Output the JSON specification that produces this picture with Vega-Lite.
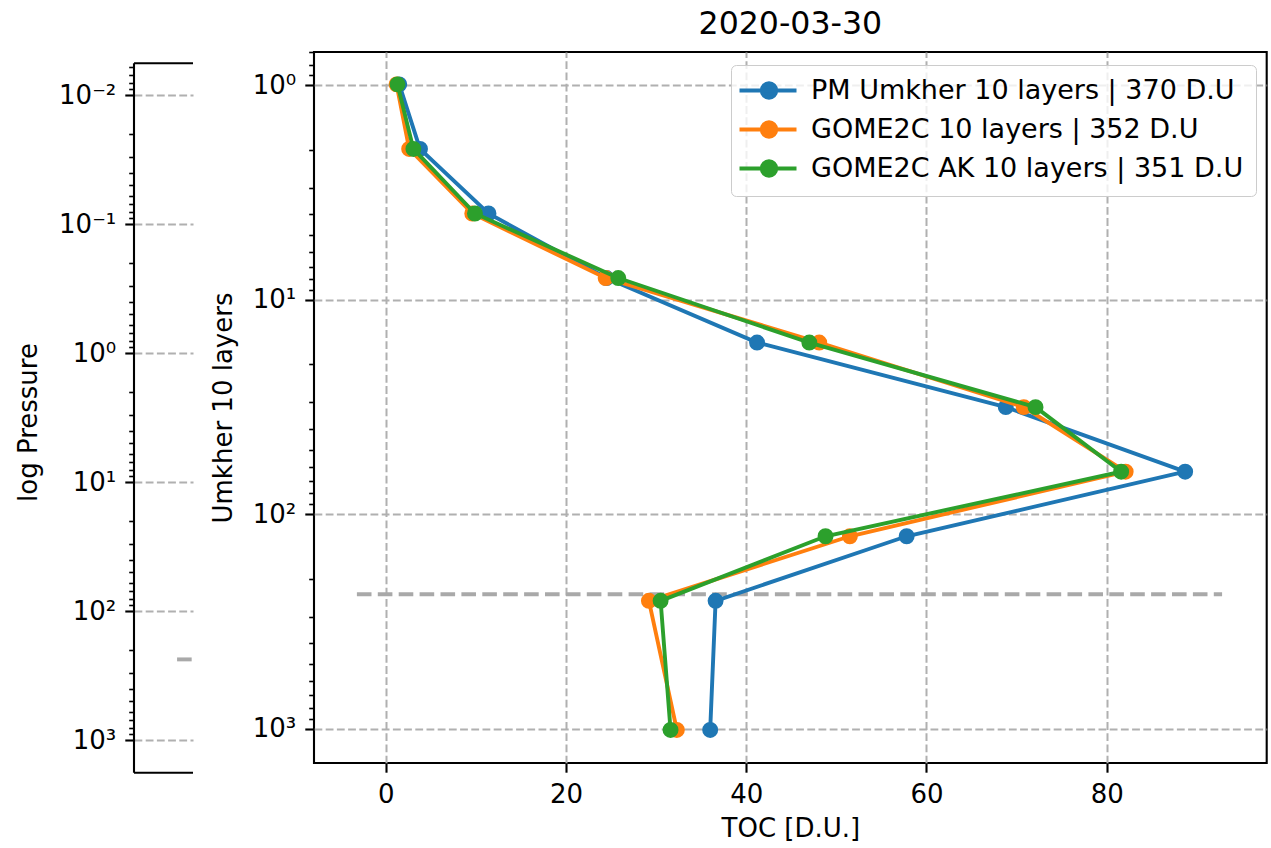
{
  "$schema": "https://vega.github.io/schema/vega-lite/v6.json",
  "background": "white",
  "padding": {"left": 15, "top": 8, "right": 5, "bottom": 5},
  "config": {
    "font": "DejaVu Sans",
    "axis": {"labelFont": "DejaVu Sans", "titleFont": "DejaVu Sans", "labelFontSize": 26, "titleFontSize": 26, "labelColor": "black", "titleColor": "black", "titleFontWeight": "normal", "tickColor": "black", "domainColor": "black"},
    "view": {"stroke": "black", "strokeWidth": 2.1}
  },
  "datasets": {
    "profiles": [
      {"series": "PM Umkher 10 layers | 370 D.U", "level": 1, "p": 0.99, "toc": 1.5},
      {"series": "PM Umkher 10 layers | 370 D.U", "level": 2, "p": 1.98, "toc": 3.8},
      {"series": "PM Umkher 10 layers | 370 D.U", "level": 3, "p": 3.96, "toc": 11.4},
      {"series": "PM Umkher 10 layers | 370 D.U", "level": 4, "p": 7.92, "toc": 24.5},
      {"series": "PM Umkher 10 layers | 370 D.U", "level": 5, "p": 15.83, "toc": 41.2},
      {"series": "PM Umkher 10 layers | 370 D.U", "level": 6, "p": 31.67, "toc": 68.8},
      {"series": "PM Umkher 10 layers | 370 D.U", "level": 7, "p": 63.33, "toc": 88.7},
      {"series": "PM Umkher 10 layers | 370 D.U", "level": 8, "p": 126.66, "toc": 57.8},
      {"series": "PM Umkher 10 layers | 370 D.U", "level": 9, "p": 253.3, "toc": 36.6},
      {"series": "PM Umkher 10 layers | 370 D.U", "level": 10, "p": 1013.25, "toc": 36.0},
      {"series": "GOME2C 10 layers | 352 D.U", "level": 1, "p": 0.99, "toc": 1.2},
      {"series": "GOME2C 10 layers | 352 D.U", "level": 2, "p": 1.98, "toc": 2.6},
      {"series": "GOME2C 10 layers | 352 D.U", "level": 3, "p": 3.96, "toc": 9.6},
      {"series": "GOME2C 10 layers | 352 D.U", "level": 4, "p": 7.92, "toc": 24.4},
      {"series": "GOME2C 10 layers | 352 D.U", "level": 5, "p": 15.83, "toc": 48.1},
      {"series": "GOME2C 10 layers | 352 D.U", "level": 6, "p": 31.67, "toc": 70.8},
      {"series": "GOME2C 10 layers | 352 D.U", "level": 7, "p": 63.33, "toc": 82.1},
      {"series": "GOME2C 10 layers | 352 D.U", "level": 8, "p": 126.66, "toc": 51.5},
      {"series": "GOME2C 10 layers | 352 D.U", "level": 9, "p": 253.3, "toc": 29.2},
      {"series": "GOME2C 10 layers | 352 D.U", "level": 10, "p": 1013.25, "toc": 32.3},
      {"series": "GOME2C AK 10 layers | 351 D.U", "level": 1, "p": 0.99, "toc": 1.3},
      {"series": "GOME2C AK 10 layers | 351 D.U", "level": 2, "p": 1.98, "toc": 3.07},
      {"series": "GOME2C AK 10 layers | 351 D.U", "level": 3, "p": 3.96, "toc": 9.9},
      {"series": "GOME2C AK 10 layers | 351 D.U", "level": 4, "p": 7.92, "toc": 25.8},
      {"series": "GOME2C AK 10 layers | 351 D.U", "level": 5, "p": 15.83, "toc": 47.0},
      {"series": "GOME2C AK 10 layers | 351 D.U", "level": 6, "p": 31.67, "toc": 72.1},
      {"series": "GOME2C AK 10 layers | 351 D.U", "level": 7, "p": 63.33, "toc": 81.6},
      {"series": "GOME2C AK 10 layers | 351 D.U", "level": 8, "p": 126.66, "toc": 48.8},
      {"series": "GOME2C AK 10 layers | 351 D.U", "level": 9, "p": 253.3, "toc": 30.5},
      {"series": "GOME2C AK 10 layers | 351 D.U", "level": 10, "p": 1013.25, "toc": 31.6}
    ],
    "tropo": [{"p": 236}]
  },
  "bounds": "flush",
  "spacing": 121,
  "resolve": {"legend": {"color": "independent"}},
  "hconcat": [
    {
      "width": 59,
      "height": 721,
      "view": {"stroke": null},
      "data": {"name": "tropo"},
      "layer": [
        {
          "mark": {"type": "rule", "color": "#a9a9a9", "strokeWidth": 3.9, "strokeDash": [14.6, 6.3]},
          "encoding": {
            "x": {"datum": 0.73, "type": "quantitative", "scale": {"domain": [0, 1], "nice": false, "zero": false}, "axis": null},
            "x2": {"datum": 1},
            "y": {
              "field": "p", "type": "quantitative",
              "scale": {"type": "log", "domain": [0.004617, 1793], "reverse": true, "nice": false},
              "axis": {
                "title": "log Pressure",
                "titleY": 370,
                "values": [0.006,0.007,0.008,0.009,0.01,0.02,0.03,0.04,0.05,0.06,0.07,0.08,0.09,0.1,0.2,0.3,0.4,0.5,0.6,0.7,0.8,0.9,1,2,3,4,5,6,7,8,9,10,20,30,40,50,60,70,80,90,100,200,300,400,500,600,700,800,900,1000],
                "labelExpr": "datum.value == 0.01 ? '10⁻²' : datum.value == 0.1 ? '10⁻¹' : datum.value == 1 ? '10⁰' : datum.value == 10 ? '10¹' : datum.value == 100 ? '10²' : datum.value == 1000 ? '10³' : ''",
                "labelOverlap": false,
                "labelPadding": 9,
                "titlePadding": 17,
                "domain": false,
                "grid": true,
                "gridColor": "#b0b0b0",
                "gridDash": [7.8, 3.4],
                "gridWidth": 2,
                "gridOpacity": {"condition": {"test": "abs(log(datum.value)/LN10 - round(log(datum.value)/LN10)) < 0.001", "value": 1}, "value": 0},
                "tickSize": {"condition": {"test": "abs(log(datum.value)/LN10 - round(log(datum.value)/LN10)) < 0.001", "value": 9.2}, "value": 5.3},
                "tickWidth": {"condition": {"test": "abs(log(datum.value)/LN10 - round(log(datum.value)/LN10)) < 0.001", "value": 2.1}, "value": 1.6}
              }
            }
          }
        },
        {
          "mark": {"type": "rule", "color": "black", "strokeWidth": 2.1},
          "encoding": {"x": {"datum": 0}, "y": {"datum": 0.005649}, "y2": {"datum": 1785}}
        },
        {
          "mark": {"type": "rule", "color": "black", "strokeWidth": 2.1},
          "encoding": {"x": {"datum": 0}, "x2": {"datum": 1}, "y": {"datum": 0.005649}}
        },
        {
          "mark": {"type": "rule", "color": "black", "strokeWidth": 2.1},
          "encoding": {"x": {"datum": 0}, "x2": {"datum": 1}, "y": {"datum": 1785}}
        }
      ]
    },
    {
      "width": 952.7,
      "height": 711,
      "title": {"text": "2020-03-30", "fontSize": 31.6, "fontWeight": "normal", "font": "DejaVu Sans", "color": "black", "anchor": "middle", "frame": "group", "baseline": "alphabetic", "offset": -27},
      "layer": [
        {
          "data": {"name": "tropo"},
          "mark": {"type": "rule", "color": "#a9a9a9", "strokeWidth": 3.9, "strokeDash": [14.6, 6.3]},
          "encoding": {
            "x": {"datum": -3.2, "type": "quantitative"},
            "x2": {"datum": 92.8},
            "y": {"field": "p", "type": "quantitative"}
          }
        },
        {
          "data": {"name": "profiles"},
          "transform": [{"filter": "datum.series == 'PM Umkher 10 layers | 370 D.U'"}],
          "mark": {"type": "line", "strokeWidth": 3.9},
          "encoding": {
            "x": {
              "field": "toc", "type": "quantitative",
              "scale": {"domain": [-7.96, 97.75], "nice": false, "zero": false},
              "axis": {"title": "TOC [D.U.]", "values": [0, 20, 40, 60, 80], "grid": true, "gridColor": "#b0b0b0", "gridDash": [7.8, 3.4], "gridWidth": 2, "tickSize": 9.2, "tickWidth": 2.1, "labelPadding": 9, "domain": false, "labelFlush": false, "titlePadding": 8}
            },
            "y": {
              "field": "p", "type": "quantitative",
              "scale": {"type": "log", "domain": [0.6994, 1445], "reverse": true, "nice": false},
              "axis": {
                "title": "Umkher 10 layers",
                "values": [0.7,0.8,0.9,1,2,3,4,5,6,7,8,9,10,20,30,40,50,60,70,80,90,100,200,300,400,500,600,700,800,900,1000],
                "labelExpr": "datum.value == 0.01 ? '10⁻²' : datum.value == 0.1 ? '10⁻¹' : datum.value == 1 ? '10⁰' : datum.value == 10 ? '10¹' : datum.value == 100 ? '10²' : datum.value == 1000 ? '10³' : ''",
                "labelOverlap": false,
                "labelPadding": 9,
                "titlePadding": 16,
                "domain": false,
                "grid": true,
                "gridColor": "#b0b0b0",
                "gridDash": [7.8, 3.4],
                "gridWidth": 2,
                "gridOpacity": {"condition": {"test": "abs(log(datum.value)/LN10 - round(log(datum.value)/LN10)) < 0.001", "value": 1}, "value": 0},
                "tickSize": {"condition": {"test": "abs(log(datum.value)/LN10 - round(log(datum.value)/LN10)) < 0.001", "value": 9.2}, "value": 5.3},
                "tickWidth": {"condition": {"test": "abs(log(datum.value)/LN10 - round(log(datum.value)/LN10)) < 0.001", "value": 2.1}, "value": 1.6}
              }
            },
            "order": {"field": "level", "type": "quantitative"},
            "color": {
              "field": "series", "type": "nominal",
              "scale": {"domain": ["PM Umkher 10 layers | 370 D.U", "GOME2C 10 layers | 352 D.U", "GOME2C AK 10 layers | 351 D.U"], "range": ["#1f77b4", "#ff7f0e", "#2ca02c"]},
              "legend": {
                "orient": "none", "legendX": 417, "legendY": 13, "title": null,
                "labelFont": "DejaVu Sans", "labelFontSize": 27, "labelColor": "black", "labelLimit": 700,
                "symbolType": "M-1.7,0L4.0,0M1.975,0A0.725,0.725,0,1,1,0.525,0A0.725,0.725,0,1,1,1.975,0Z",
                "symbolSize": 400, "symbolStrokeWidth": 3.9, "labelOffset": 41, "rowPadding": 8, "padding": 12,
                "strokeColor": "#cccccc", "fillColor": "rgba(255,255,255,0.8)", "cornerRadius": 5,
                "encode": {"symbols": {"update": {"fill": {"scale": "color", "field": "value"}, "stroke": {"scale": "color", "field": "value"}, "strokeWidth": {"value": 3.9}, "opacity": {"value": 1}, "fillOpacity": {"value": 1}}}}
              }
            }
          }
        },
        {
          "data": {"name": "profiles"},
          "transform": [{"filter": "datum.series == 'PM Umkher 10 layers | 370 D.U'"}],
          "mark": {"type": "point", "filled": true, "size": 254, "opacity": 1},
          "encoding": {"x": {"field": "toc", "type": "quantitative"}, "y": {"field": "p", "type": "quantitative"}, "color": {"field": "series", "type": "nominal"}}
        },
        {
          "data": {"name": "profiles"},
          "transform": [{"filter": "datum.series == 'GOME2C 10 layers | 352 D.U'"}],
          "mark": {"type": "line", "strokeWidth": 3.9},
          "encoding": {"x": {"field": "toc", "type": "quantitative"}, "y": {"field": "p", "type": "quantitative"}, "order": {"field": "level", "type": "quantitative"}, "color": {"field": "series", "type": "nominal"}}
        },
        {
          "data": {"name": "profiles"},
          "transform": [{"filter": "datum.series == 'GOME2C 10 layers | 352 D.U'"}],
          "mark": {"type": "point", "filled": true, "size": 254, "opacity": 1},
          "encoding": {"x": {"field": "toc", "type": "quantitative"}, "y": {"field": "p", "type": "quantitative"}, "color": {"field": "series", "type": "nominal"}}
        },
        {
          "data": {"name": "profiles"},
          "transform": [{"filter": "datum.series == 'GOME2C AK 10 layers | 351 D.U'"}],
          "mark": {"type": "line", "strokeWidth": 3.9},
          "encoding": {"x": {"field": "toc", "type": "quantitative"}, "y": {"field": "p", "type": "quantitative"}, "order": {"field": "level", "type": "quantitative"}, "color": {"field": "series", "type": "nominal"}}
        },
        {
          "data": {"name": "profiles"},
          "transform": [{"filter": "datum.series == 'GOME2C AK 10 layers | 351 D.U'"}],
          "mark": {"type": "point", "filled": true, "size": 254, "opacity": 1},
          "encoding": {"x": {"field": "toc", "type": "quantitative"}, "y": {"field": "p", "type": "quantitative"}, "color": {"field": "series", "type": "nominal"}}
        }
      ]
    }
  ]
}
